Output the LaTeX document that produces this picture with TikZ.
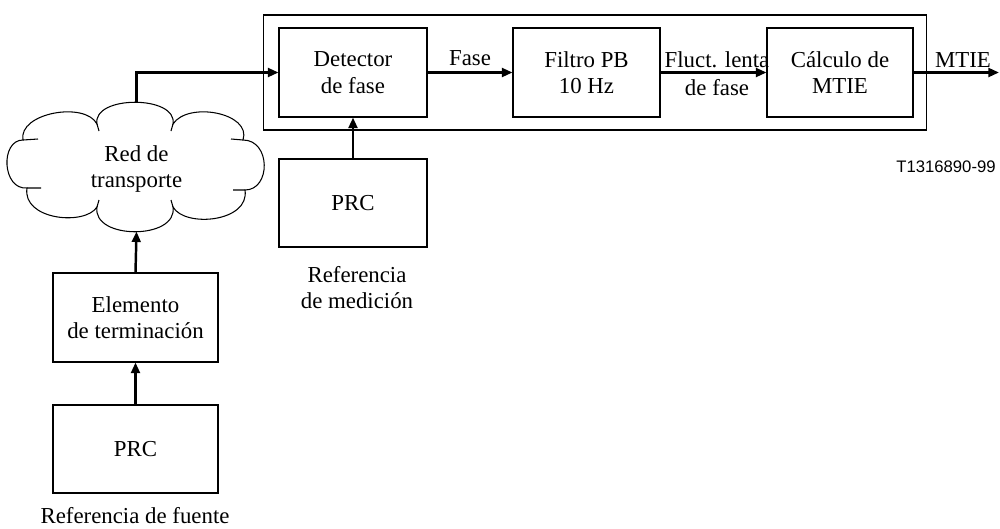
\documentclass[tikz,border=0pt]{standalone}
\usepackage{fontspec}
\setmainfont{Liberation Serif}
\setsansfont{Liberation Sans}
\usetikzlibrary{arrows.meta}

\begin{document}
\begin{tikzpicture}[x=0.02cm,y=-0.02cm,
  bloque/.style={draw,line width=0.6pt,minimum width=2.96cm,minimum height=1.78cm,align=center,inner sep=0pt},
  flecha/.style={line width=1.4pt,-{Triangle[length=6pt,width=5pt]}},
  etiq/.style={align=center,inner sep=0pt},
  nube/.style={line width=0.6pt},
  font=\fontsize{13}{15}\selectfont]
\useasboundingbox (0,0) rectangle (1000,528);

% bloque de medida
\node [draw,line width=0.6pt,minimum width=13.28cm,minimum height=2.3cm] (marco) at (595,72.5) {};
\node [bloque] (det) at (353,72.5) {Detector\\de fase};
\node [bloque,minimum width=2.94cm] (filt) at (586.5,72.5) {Filtro PB\\10 Hz};
\node [bloque,minimum width=2.92cm] (calc) at (840,72.5) {C\'alculo de\\MTIE};
\coordinate (fin) at (999,72.5);

\draw [flecha] (det.east) -- (filt.west) node[midway,above=3pt,etiq] {Fase};
\draw [flecha] (filt.east) -- (calc.west);
\node [etiq] (fluct1) at (717,60) {Fluct. lenta};
\node [etiq] (fluct2) at (717,88) {de fase};
\draw [flecha] (calc.east) -- (fin);
\node [etiq] (mtie) at (963,60) {MTIE};

% referencia de medicion
\node [bloque,minimum height=1.76cm] (prcm) at (353,203) {PRC};
\node [etiq] (refm) at (357,287.5) {Referencia\\de medici\'on};
\draw [flecha] (prcm.north) -- (det.south);

% nube: red de transporte
\draw [nube] (23,140) .. controls (18,113) and (85,101) .. (97,124)
  .. controls (92,95) and (178,95) .. (173,124)
  .. controls (188,101) and (252,113) .. (243,140)
  .. controls (271,140) and (271,190) .. (245,190)
  .. controls (250,222) and (185,228) .. (173,207)
  .. controls (178,240) and (92,240) .. (97,207)
  .. controls (85,226) and (22,220) .. (27,188)
  .. controls (2,190) and (0,140) .. cycle;
\draw [nube] (97,124) -- ++(2,7) (173,124) -- ++(-2,7)
  (97,207) -- ++(2,-7) (173,207) -- ++(-2,-7)
  (23,140) -- ++(15,-1) (27,188) -- ++(14,0)
  (243,140) -- ++(-12,-1) (245,190) -- ++(-12,0);
\node [etiq] (red) at (136.5,169) {Red de\\transporte};
\coordinate (redn) at (136.5,102.5);
\coordinate (reds) at (136.5,231.5);

% referencia de fuente
\node [bloque,minimum width=3.3cm] (elem) at (135.5,317.5) {Elemento\\de terminaci\'on};
\node [bloque,minimum width=3.3cm,minimum height=1.76cm] (prcf) at (135.5,449) {PRC};
\node [etiq] (reff) at (135,516) {Referencia de fuente};

\draw [flecha] (redn) |- (det.west);
\draw [flecha] (elem.north) -- (reds);
\draw [flecha] (prcf.north) -- (elem.south);

\node [font=\sffamily\fontsize{9.5}{11}\selectfont] (codigo) at (946,167) {T1316890-99};
\end{tikzpicture}
\end{document}
